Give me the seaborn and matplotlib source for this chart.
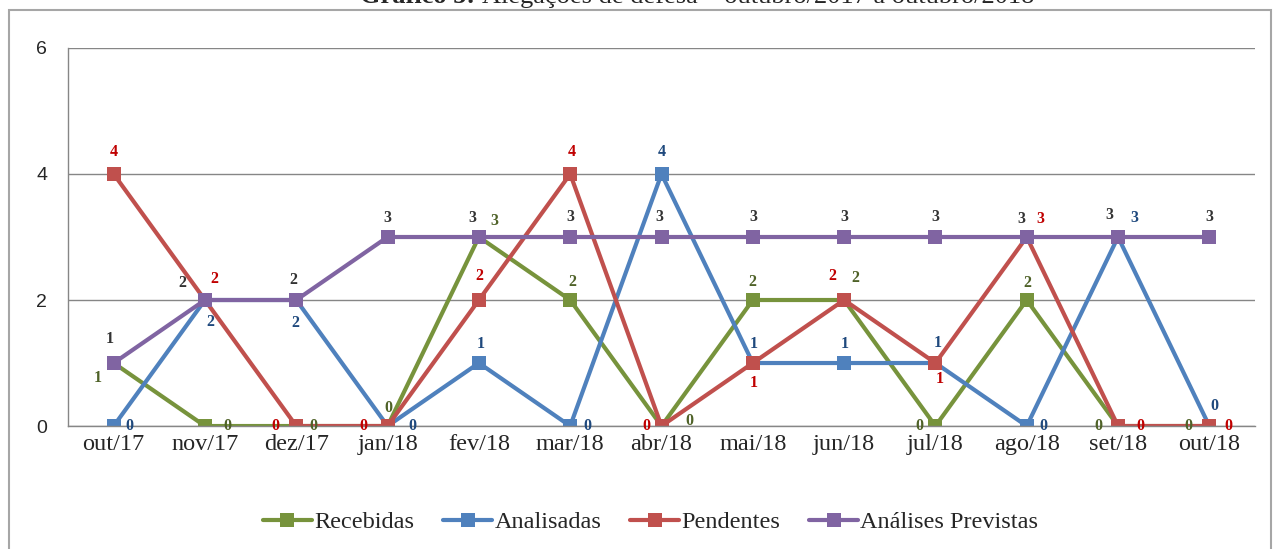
import numpy as np
import pandas as pd
import matplotlib
matplotlib.use("Agg")
import matplotlib.pyplot as plt
from matplotlib.patches import Rectangle
import seaborn as sns

# ─────────────────────────────────────────────
# DATA
# ─────────────────────────────────────────────
months = ["out/17", "nov/17", "dez/17", "jan/18", "fev/18", "mar/18", "abr/18",
          "mai/18", "jun/18", "jul/18", "ago/18", "set/18", "out/18"]
recebidas = [1, 0, 0, 0, 3, 2, 0, 2, 2, 0, 2, 0, 0]
analisadas = [0, 2, 2, 0, 1, 0, 4, 1, 1, 1, 0, 3, 0]
pendentes = [4, 2, 0, 0, 2, 4, 0, 1, 2, 1, 3, 0, 0]
previstas = [1, 2, 2, 3, 3, 3, 3, 3, 3, 3, 3, 3, 3]
y_ticks = [0, 2, 4, 6]

# label offsets (pixels) per point, to keep labels apart like the original
off_rec = [(-16, -15), (22, 0), (17, 0), (1, 18), (15, 16), (2, 18), (28, 5),
           (0, 18), (11, 22), (-16, 0), (1, 17), (-20, 0), (-21, 0)]
off_ana = [(16, 0), (5, -22), (-1, -23), (25, 0), (2, 19), (17, 0), (0, 22),
           (1, 19), (1, 19), (2, 20), (17, 0), (16, 19), (5, 20)]
off_pen = [(0, 22), (9, 21), (-21, 0), (-24, 0), (0, 24), (2, 22), (-15, 0),
           (1, -20), (-12, 24), (4, -16), (14, 18), (22, 0), (19, 0)]
off_pre = [(-4, 24), (-23, 17), (-3, 20), (0, 19), (-7, 19), (0, 20), (-2, 20),
           (0, 20), (0, 20), (0, 20), (-5, 18), (-9, 22), (0, 20)]

series = [
    ("Recebidas", recebidas, "#77933c", "#4f6228", off_rec),
    ("Analisadas", analisadas, "#4f81bd", "#1f497d", off_ana),
    ("Pendentes", pendentes, "#c0504d", "#c00000", off_pen),
    ("Análises Previstas", previstas, "#8064a2", "#333333", off_pre),
]

sns.set_style("white")
plt.rcParams["font.family"] = ["Liberation Serif", "DejaVu Serif"]

x = np.arange(len(months))
df = pd.concat([pd.DataFrame({"x": x, "valor": vals, "serie": name})
                for name, vals, _, _, _ in series], ignore_index=True)
palette = {name: col for name, _, col, _, _ in series}

fig = plt.figure(figsize=(12.81, 5.49), dpi=100)
ax = fig.add_axes([0.0531, 0.224, 0.9266, 0.6886])

sns.lineplot(data=df, x="x", y="valor", hue="serie", palette=palette,
             marker="s", markersize=10, markeredgewidth=0, linewidth=3,
             ax=ax, legend=True)

for name, vals, col, lcol, offs in series:
    for xi, v, (dx, dy) in zip(x, vals, offs):
        ax.annotate(str(v), (xi, v), xytext=(dx, dy), textcoords="offset pixels",
                    ha="center", va="center", fontsize=11.5, fontweight="bold",
                    color=lcol, clip_on=False)

ax.set_xlim(-0.5, len(months) - 0.5)
ax.set_ylim(0, 6)
ax.set_yticks(y_ticks)
ax.set_xticks(x)
ax.set_xticklabels(months)
ax.set_xticks(np.arange(-0.5, len(months)), minor=True)
ax.tick_params(axis="x", which="major", length=0, labelsize=17.5, pad=6)
ax.tick_params(axis="x", which="minor", length=6, color="#868686", direction="out")
ax.tick_params(axis="y", length=7, color="#868686", labelsize=14, pad=8)
for lab in ax.get_yticklabels():
    lab.set_family(["Liberation Sans", "DejaVu Sans"])
ax.set_xlabel("")
ax.set_ylabel("")
ax.grid(axis="y", color="#868686", linewidth=1)
ax.set_axisbelow(True)
for s in ["top", "right"]:
    ax.spines[s].set_visible(False)
for s in ["left", "bottom"]:
    ax.spines[s].set_color("#868686")
    ax.spines[s].set_linewidth(1)

handles, labels = ax.get_legend_handles_labels()
ax.legend_.remove()
fig.legend(handles, labels, loc="center", bbox_to_anchor=(0.508, 0.049), ncol=4,
           frameon=False, fontsize=17.5, handlelength=2.0, handletextpad=0.1,
           columnspacing=1.2)

# chart border box
fig.patches.append(Rectangle((9 / 1281, -0.1), 1262 / 1281, 1.1 - 10 / 549,
                             transform=fig.transFigure, fill=False,
                             edgecolor="#a6a6a6", linewidth=1.5))

# title (cut off at the top in the original)
fig.text(0.376, 1 - 3 / 549, "Gráfico 5: ", ha="right", va="baseline",
         fontsize=19, fontweight="bold")
fig.text(0.376, 1 - 3 / 549, "Alegações de defesa – outubro/2017 a outubro/2018",
         ha="left", va="baseline", fontsize=19)

fig.savefig("out.png", dpi=100)
